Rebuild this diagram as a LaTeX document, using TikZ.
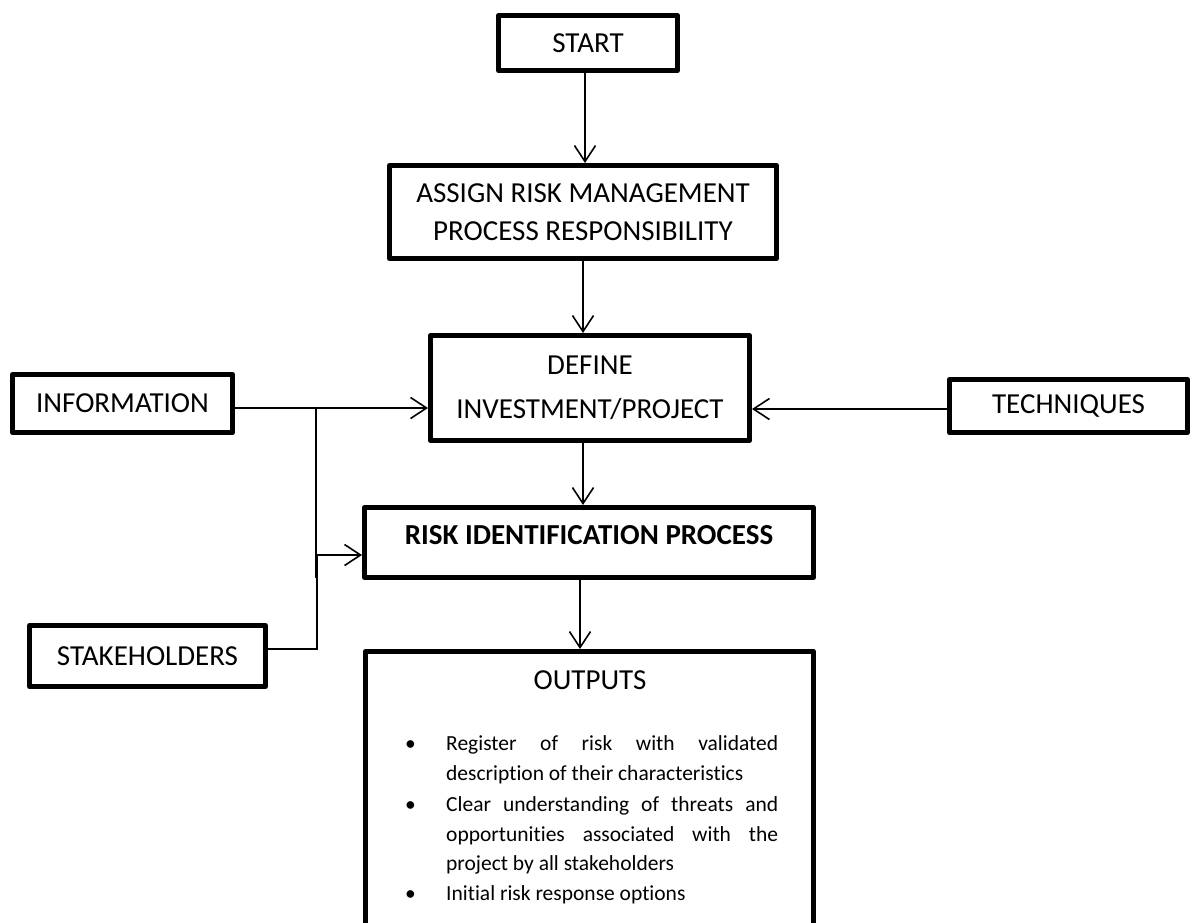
\documentclass[tikz,border=0pt]{standalone}
\usepackage{fontspec}
\setmainfont{Carlito}[Ligatures=NoCommon]
\usetikzlibrary{arrows.meta}
\begin{document}
\begin{tikzpicture}[x=1pt,y=-1pt,
  box/.style={draw, line width=4.8pt, line join=round, inner sep=0pt,
    font=\fontsize{29}{38}\selectfont, align=center},
  conn/.style={line width=1.6pt},
  arr/.style={conn, -{Straight Barb[length=16pt,width=21pt]}},
  bl/.style={anchor=base west, inner sep=0pt, font=\fontsize{21.5}{30}\selectfont}]
\useasboundingbox (0,0) rectangle (1192,922);
\fill[white] (0,0) rectangle (1192,922);
\clip (0,0) rectangle (1192,922);

% boxes
\node[box, minimum width=179.2pt, minimum height=55.2pt] (start) at (588,43) {START};
\node[box, minimum width=387.2pt, minimum height=93.2pt] (assign) at (583,212)
  {ASSIGN RISK MANAGEMENT\\PROCESS RESPONSIBILITY};
\node[box, minimum width=319.2pt, minimum height=105.2pt,
  font=\fontsize{29}{44}\selectfont] (define) at (590,388) {DEFINE\\INVESTMENT/PROJECT};
\node[box, minimum width=220.2pt, minimum height=58.2pt] (info) at (122.5,403.5) {INFORMATION};
\node[box, minimum width=238.2pt, minimum height=53.2pt] (tech) at (1068.5,406) {TECHNIQUES};
\node[box, minimum width=449.2pt, minimum height=70.2pt,
  font=\fontsize{29}{38}\selectfont\bfseries, text depth=15pt] (risk) at (589,542.5)
  {RISK IDENTIFICATION PROCESS};
\node[box, minimum width=236.2pt, minimum height=61.2pt] (stake) at (147.5,656) {STAKEHOLDERS};
\node[box, minimum width=448.2pt, minimum height=320pt, anchor=north] (outputs) at (589.5,649) {};

% outputs content
\node[font=\fontsize{29}{35}\selectfont, inner sep=0pt] (outtitle) at (590,680) {OUTPUTS};
\node[bl] (b1) at (405,750) {•};
\node[bl] (b3) at (405,811) {•};
\node[bl] (b6) at (405,900) {•};
\node[bl] (l1) at (446,750) {\makebox[332pt][s]{Register of risk with validated}};
\node[bl] (l2) at (446,780) {description of their characteristics};
\node[bl] (l3) at (446,811) {\makebox[332pt][s]{Clear understanding of threats and}};
\node[bl] (l4) at (446,841) {\makebox[332pt][s]{opportunities associated with the}};
\node[bl] (l5) at (446,870) {project by all stakeholders};
\node[bl] (l6) at (446,900) {Initial risk response options};

% helper coordinates
\coordinate (xa) at (585,0);
\coordinate (xb) at (583,0);
\coordinate (xc) at (580,0);
\coordinate (yI) at (0,408);
\coordinate (yT) at (0,409);
\coordinate (yS) at (0,649);
\coordinate (jA) at (316,408);
\coordinate (jB) at (316,578);
\coordinate (j2) at (317,555);

% connectors
\draw[arr] (start.south -| xa) -- (assign.north -| xa);
\draw[arr] (assign.south -| xb) -- (define.north -| xb);
\draw[arr] (define.south -| xb) -- (risk.north -| xb);
\draw[arr] (risk.south -| xc) -- (outputs.north -| xc);
\draw[arr] (info.east |- yI) -- (define.west |- yI);
\draw[arr] (tech.west |- yT) -- (define.east |- yT);
\draw[conn] (jA) -- (jB);
\draw[arr] (stake.east |- yS) -| (j2) -- (risk.west |- j2);
\end{tikzpicture}
\end{document}
